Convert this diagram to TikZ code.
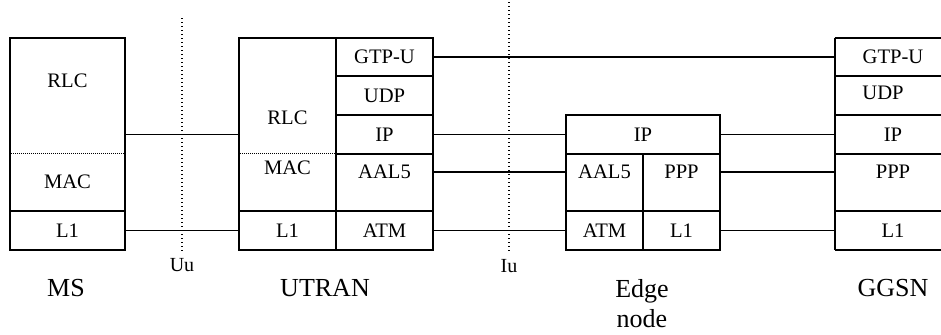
\documentclass[tikz,border=0pt]{standalone}
\usepackage{fontspec}
\setmainfont{Liberation Serif}
\usepackage{tikz}

\tikzset{
  cell/.style={draw, line width=1pt, inner sep=0pt, font=\fontsize{10.3}{12}\selectfont},
  opencell/.style={inner sep=0pt, font=\fontsize{10.3}{12}\selectfont},
  celltext/.style={inner sep=0pt, font=\fontsize{10.3}{12}\selectfont},
  border/.style={line width=1pt},
  link/.style={line width=0.65pt},
  iface/.style={line width=0.65pt, dash pattern=on 0.65pt off 1.35pt},
  layersep/.style={line width=0.5pt, dash pattern=on 0.5pt off 0.5pt},
  nelabel/.style={inner sep=0pt, align=center, font=\fontsize{13}{15}\selectfont},
  ifacelabel/.style={inner sep=0pt, font=\fontsize{10}{12}\selectfont}
}

\begin{document}
\begin{tikzpicture}[x=0.5pt, y=-0.5pt]
    \useasboundingbox (0,0) rectangle (941,334);
    \clip (0,0) rectangle (941,334);
    % MS
    \node[cell, minimum width=57.5pt, minimum height=86.5pt] (ms-mac) at (67.5,124.5) {};
    \node[cell, minimum width=57.5pt, minimum height=19.5pt] (ms-l1) at (67.5,230.5) {L1};
    \node[celltext] (ms-rlc-t) at (67.5,81) {RLC};
    \node[celltext] (ms-mac-t) at (67.5,182) {MAC};
    % UTRAN
    \node[cell, minimum width=48.5pt, minimum height=86.5pt] (ut-mac) at (287.5,124.5) {};
    \node[cell, minimum width=48.5pt, minimum height=19.5pt] (ut-l1) at (287.5,230.5) {L1};
    \node[celltext] (ut-rlc-t) at (287.5,118) {RLC};
    \node[celltext] (ut-mac-t) at (287.5,168) {MAC};
    \node[cell, minimum width=48.5pt, minimum height=19pt] (ut-gtp) at (384.5,57) {GTP-U};
    \node[cell, minimum width=48.5pt, minimum height=19.5pt] (ut-udp) at (384.5,95.5) {UDP};
    \node[cell, minimum width=48.5pt, minimum height=19.5pt] (ut-ip) at (384.5,134.5) {IP};
    \node[cell, minimum width=48.5pt, minimum height=28.5pt] (ut-aal) at (384.5,182.5) {};
    \node[cell, minimum width=48.5pt, minimum height=19.5pt] (ut-atm) at (384.5,230.5) {ATM};
    \node[celltext] (ut-aal-t) at (384.5,172) {AAL5};
    % Edge node
    \node[cell, minimum width=77pt, minimum height=19.5pt] (ed-ip) at (643,134.5) {IP};
    \node[cell, minimum width=38.5pt, minimum height=28.5pt] (ed-aal) at (604.5,182.5) {};
    \node[cell, minimum width=38.5pt, minimum height=28.5pt] (ed-ppp) at (681.5,182.5) {};
    \node[cell, minimum width=38.5pt, minimum height=19.5pt] (ed-atm) at (604.5,230.5) {ATM};
    \node[cell, minimum width=38.5pt, minimum height=19.5pt] (ed-l1) at (681.5,230.5) {L1};
    \node[celltext] (ed-aal-t) at (604.5,172) {AAL5};
    \node[celltext] (ed-ppp-t) at (681.5,172) {PPP};
    % GGSN, cut off on the right
    \node[opencell, minimum width=58pt, minimum height=19pt] (gg-gtp) at (893,57) {GTP-U};
    \node[opencell, minimum width=58pt, minimum height=19.5pt] (gg-udp) at (893,95.5) {};
    \node[opencell, minimum width=58pt, minimum height=19.5pt] (gg-ip) at (893,134.5) {IP};
    \node[opencell, minimum width=58pt, minimum height=28.5pt] (gg-ppp) at (893,182.5) {};
    \node[opencell, minimum width=58pt, minimum height=19.5pt] (gg-l1) at (893,230.5) {L1};
    \node[celltext] (gg-udp-t) at (883,93) {UDP};
    \node[celltext] (gg-ppp-t) at (893,172) {PPP};
    \draw[border] (gg-gtp.north west) -- (gg-l1.south west);
    \foreach \c in {gg-gtp, gg-udp, gg-ip, gg-ppp, gg-l1}
        \draw[border] (\c.north west) -- (\c.north east);
    \draw[border] (gg-l1.south west) -- (gg-l1.south east);
    % RLC/MAC separators
    \draw[layersep] (ms-mac.west |- ut-aal.north) -- (ms-mac.east |- ut-aal.north);
    \draw[layersep] (ut-mac.west |- ut-aal.north) -- (ut-mac.east |- ut-aal.north);
    % interfaces
    \coordinate (uu-top) at (182,18);
    \coordinate (iu-top) at (509,2);
    \draw[iface] (uu-top) -- (uu-top |- ms-l1.south);
    \draw[iface] (iu-top) -- (iu-top |- ms-l1.south);
    \node[ifacelabel] (uu) at (182,265) {Uu};
    \node[ifacelabel] (iu) at (509,266) {Iu};
    % peer links
    \draw[link] (ms-mac.east |- ut-ip) -- (ut-mac.west |- ut-ip);
    \draw[link] (ms-l1) -- (ut-l1);
    \draw[link] (ut-gtp) -- (gg-gtp.west);
    \draw[link] (ut-ip) -- (ed-ip);
    \draw[link] (ed-ip) -- (gg-ip.west);
    \draw[link] (ut-aal.east |- ut-aal-t) -- (ed-aal.west |- ut-aal-t);
    \draw[link] (ed-ppp.east |- ed-ppp-t) -- (gg-ppp.west |- ed-ppp-t);
    \draw[link] (ut-atm) -- (ed-atm);
    \draw[link] (ed-l1) -- (gg-l1.west);
    % network elements
    \node[nelabel] (ms) at (66,288) {MS};
    \node[nelabel] (utran) at (325,288) {UTRAN};
    \node[nelabel] (edge) at (642,304) {Edge\\node};
    \node[nelabel] (ggsn) at (893,288) {GGSN};
\end{tikzpicture}
\end{document}
